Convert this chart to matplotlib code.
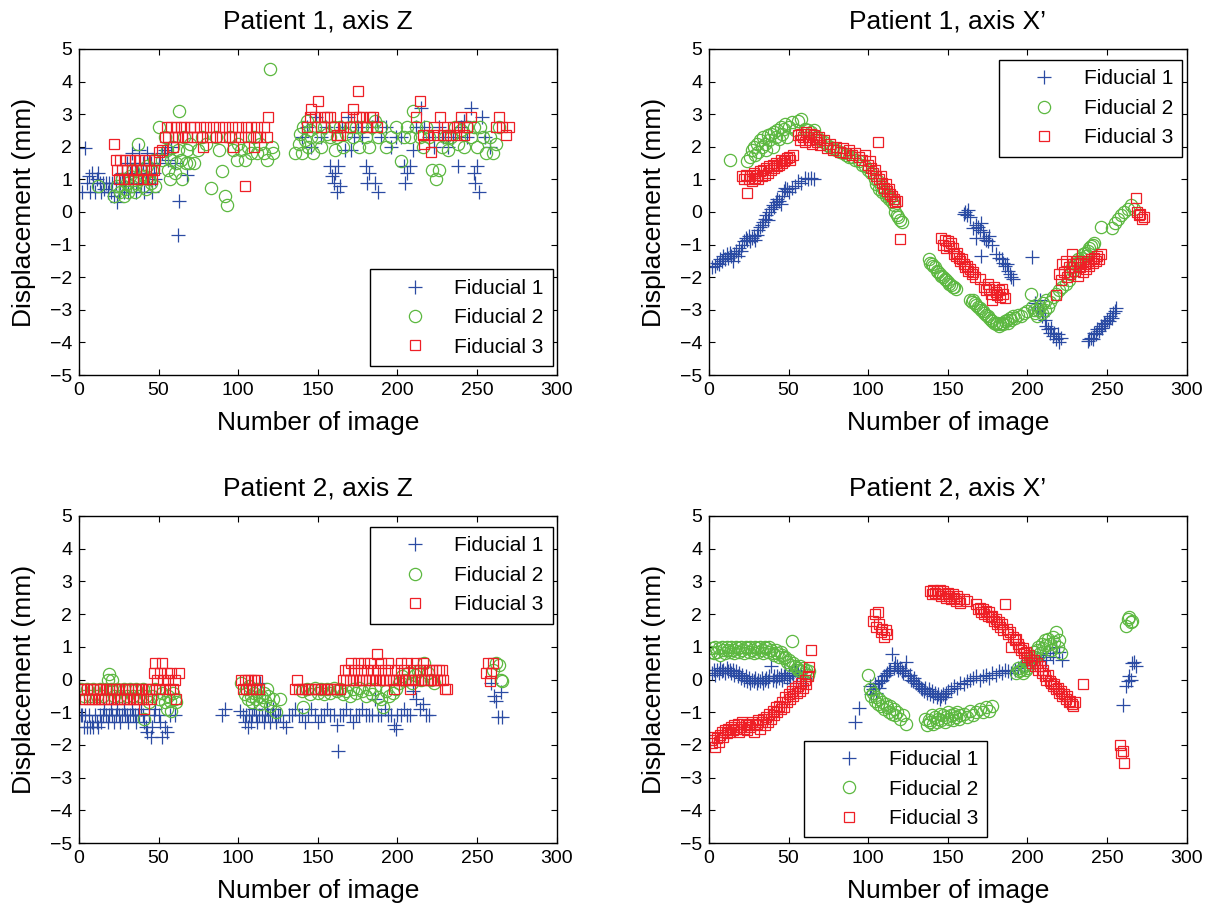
import matplotlib
matplotlib.use("Agg")
import matplotlib.pyplot as plt

plt.rcParams['font.family'] = ['Liberation Sans', 'DejaVu Sans']

# ---------------- Data ----------------
# Patient 1, axis Z
p1z_f1_x = [2,4,5,6,7,8,9,10,11,12,13,14,15,16,17,18,19,20,21,22,23,24,25,26,27,28,29,30,31,32,33,34,35,36,37,38,39,40,41,42,43,44,45,46,47,48,50,52,54,56,58,60,62,63,68,
            140,143,146,149,152,155,158,159,160,161,162,163,164,165,167,169,171,173,175,178,180,181,182,184,186,187,188,190,193,196,199,202,204,205,206,208,210,212,215,217,220,223,226,229,232,235,238,240,242,244,246,248,249,250,251,253,255,258]
p1z_f1_y = [0.6,1.95,0.9,1.1,0.6,1.2,0.9,0.6,1.0,1.2,0.9,0.6,0.9,0.7,0.9,0.6,0.9,0.6,0.9,0.5,0.9,0.3,0.6,0.9,1.2,0.6,0.9,1.5,0.6,1.2,1.8,0.9,1.5,0.6,1.2,1.9,0.9,1.5,0.6,1.2,1.8,0.9,1.5,0.6,1.2,1.0,1.5,1.8,1.9,1.6,2.0,1.5,-0.7,0.35,1.15,
            2.3,2.6,2.0,2.9,2.3,2.6,1.4,1.1,0.9,1.2,0.6,1.4,0.8,2.6,1.9,2.9,1.9,2.3,2.6,2.3,1.4,0.9,1.2,2.6,0.9,2.8,0.6,2.3,2.6,2.0,2.3,2.3,1.4,0.9,1.2,1.4,1.9,2.6,3.2,2.6,2.3,2.0,2.6,2.3,2.0,2.3,1.4,2.6,2.8,2.3,3.2,1.2,0.9,1.4,0.6,2.9,2.3,2.0]
p1z_f2_x = [12,22,24,26,27,28,29,30,31,32,33,34,35,36,37,38,39,40,41,42,43,44,45,46,47,48,50,52,54,55,56,57,58,59,60,61,62,63,64,65,66,67,68,69,70,72,75,77,80,83,86,88,90,92,93,95,97,99,100,102,104,106,108,110,112,114,116,118,120,121,122,
            136,138,139,140,141,142,143,144,145,146,147,148,150,152,154,156,158,160,161,162,164,166,168,170,172,174,176,178,180,182,184,186,188,190,193,196,199,202,204,206,208,210,212,214,216,218,220,222,224,226,228,230,232,234,236,238,240,242,244,246,248,250,252,254,256,258,260,262,264]
p1z_f2_y = [0.8,0.5,0.8,0.6,1.0,0.5,0.7,0.9,0.6,1.1,0.8,1.3,0.6,0.9,2.1,1.0,1.3,0.8,1.1,0.7,1.4,1.0,0.9,1.3,1.6,0.8,2.6,1.6,2.3,1.9,1.3,1.0,1.6,2.0,1.2,1.5,1.9,3.1,1.6,1.0,2.3,1.5,1.9,1.5,2.1,1.5,1.9,2.3,2.1,0.75,2.3,1.9,1.25,0.5,0.2,2.3,1.9,1.6,2.1,1.9,1.6,2.0,1.8,2.3,1.8,2.1,1.8,1.6,4.4,2.0,1.8,
            1.8,2.1,2.4,1.8,2.6,2.2,2.8,2.0,2.5,2.3,1.8,2.6,2.3,2.0,2.6,2.4,2.3,2.6,1.9,2.3,2.6,2.0,2.4,2.6,2.3,2.6,2.0,2.6,2.3,2.0,2.6,2.8,2.3,2.6,2.0,2.3,2.6,1.55,2.3,2.6,2.3,3.1,2.6,2.3,2.0,2.6,2.3,1.3,1.0,1.3,2.0,2.3,1.9,2.3,2.6,2.1,2.5,2.0,2.6,2.3,2.6,2.0,2.6,2.3,1.8,2.3,1.8,2.1,2.6]
p1z_f3_x = [22,23,24,25,26,27,28,29,30,31,32,33,34,35,36,37,38,39,40,41,42,43,44,45,46,47,48,50,52,54,55,56,58,59,60,61,62,64,65,66,68,70,71,72,74,76,77,78,80,82,84,86,88,90,92,94,96,97,98,100,102,104,105,106,108,110,111,112,114,116,118,119,
            143,145,146,148,150,152,154,156,158,160,162,164,166,168,170,172,174,175,176,178,180,181,183,185,187,212,214,216,217,219,221,223,225,227,229,231,233,235,237,239,240,242,244,246,262,264,266,268,270]
p1z_f3_y = [2.1,1.6,1.3,1.0,1.6,1.3,1.0,1.6,1.3,1.0,1.6,1.3,1.0,1.6,1.3,1.0,1.6,1.3,1.0,1.6,1.3,1.0,1.6,1.3,1.0,1.3,1.6,1.85,1.9,2.3,2.6,2.3,2.6,2.0,2.3,2.6,2.3,2.6,2.3,2.6,2.3,2.6,2.3,2.6,2.3,2.6,2.3,2.0,2.6,2.3,2.6,2.3,2.6,2.3,2.6,2.3,2.6,2.0,2.3,2.6,2.3,0.8,2.6,2.3,2.6,2.0,2.3,2.6,2.3,2.6,2.3,2.9,
            2.6,2.9,3.15,2.9,3.4,2.6,2.9,2.9,2.9,2.6,2.35,2.35,2.6,2.9,2.6,3.15,2.9,3.7,2.9,2.9,2.6,2.6,2.9,2.9,2.6,2.9,3.4,2.35,2.1,2.35,1.85,2.6,2.35,2.9,2.35,2.6,2.35,2.6,2.35,2.6,2.9,2.35,2.6,2.9,2.6,2.9,2.6,2.35,2.6]

# Patient 1, axis X'
p1x_f1_x = [2,4,5,6,7,8,9,10,11,12,13,14,15,16,17,18,19,20,21,22,23,24,25,26,27,28,29,30,31,32,33,34,35,36,37,38,39,40,41,42,43,44,45,46,47,48,49,50,52,54,56,58,60,62,64,66,
            160,161,162,163,164,166,168,169,170,171,172,173,174,175,176,168,171,178,180,182,184,185,186,187,188,189,190,191,203,205,206,207,208,209,210,211,212,213,214,215,216,217,218,219,220,221,
            238,239,240,241,242,243,244,245,246,247,248,249,250,251,252,253,254,255,256]
p1x_f1_y = [-1.7,-1.65,-1.55,-1.6,-1.45,-1.5,-1.35,-1.45,-1.3,-1.4,-1.25,-1.35,-1.5,-1.3,-1.2,-1.35,-1.1,-1.2,-1.0,-0.9,-0.8,-0.85,-0.75,-0.9,-0.8,-0.75,-0.85,-0.7,-0.55,-0.45,-0.4,-0.3,-0.2,-0.1,-0.25,0.0,0.1,0.2,0.15,0.3,0.4,0.35,0.25,0.5,0.65,0.75,0.7,0.6,0.75,0.8,0.95,0.9,1.05,1.0,1.05,1.0,
            -0.05,0.0,-0.1,0.05,-0.15,-0.5,-0.4,-0.45,-0.55,-0.35,-0.6,-0.8,-0.85,-0.9,-0.75,-0.8,-1.35,-1.0,-1.3,-1.4,-1.45,-1.55,-1.65,-1.6,-1.8,-1.9,-2.0,-2.05,-1.38,-2.8,-2.9,-3.0,-2.7,-3.2,-3.1,-3.3,-3.5,-3.6,-3.7,-3.55,-3.8,-3.7,-3.9,-3.75,-4.0,-3.85,
            -3.95,-3.9,-3.85,-3.9,-3.7,-3.75,-3.6,-3.65,-3.5,-3.55,-3.4,-3.45,-3.3,-3.35,-3.2,-3.25,-3.1,-3.05,-2.95]
p1x_f2_x = [13,24,26,27,28,29,30,31,32,33,34,35,36,37,38,39,40,41,42,43,44,45,46,47,48,49,50,52,54,56,58,60,62,64,66,68,70,72,74,76,78,80,82,84,86,88,90,92,94,96,98,100,102,104,105,106,107,108,109,110,111,112,113,114,115,116,117,118,119,120,121,
            138,139,140,141,142,143,144,145,146,147,148,149,150,151,152,153,154,155,164,165,166,167,168,169,170,171,172,173,174,175,176,177,178,179,180,181,182,183,184,185,186,187,188,189,190,191,192,194,196,198,200,
            202,203,204,205,206,207,208,209,210,211,212,213,214,216,218,220,222,224,226,227,228,229,230,231,232,233,234,235,236,237,238,239,240,241,242,246,253,255,257,259,261,263,265,267]
p1x_f2_y = [1.6,1.55,1.7,1.9,2.0,1.75,2.1,1.85,2.2,2.0,2.3,2.1,1.9,2.35,2.2,2.4,2.0,2.45,2.3,2.5,2.25,2.6,2.4,2.55,2.7,2.3,2.6,2.75,2.5,2.8,2.85,2.55,2.5,2.45,2.5,2.3,2.2,2.15,2.05,2.0,1.95,1.9,1.85,1.8,1.75,1.7,1.7,1.6,1.55,1.45,1.4,1.3,1.2,1.0,0.85,0.95,0.7,0.8,0.6,0.65,0.5,0.55,0.4,0.45,0.3,0.2,0.0,-0.1,-0.15,-0.25,-0.3,
            -1.45,-1.55,-1.6,-1.65,-1.7,-1.8,-1.85,-1.9,-1.95,-2.0,-2.05,-2.1,-2.15,-2.2,-2.25,-2.3,-2.3,-2.35,-2.7,-2.75,-2.7,-2.8,-2.85,-2.9,-2.95,-3.0,-3.05,-3.1,-3.15,-3.2,-3.25,-3.3,-3.35,-3.4,-3.45,-3.4,-3.5,-3.45,-3.4,-3.45,-3.35,-3.3,-3.4,-3.25,-3.3,-3.2,-3.25,-3.15,-3.2,-3.1,-3.05,
            -2.5,-2.9,-3.0,-3.1,-3.2,-3.0,-2.9,-3.1,-2.8,-3.0,-2.7,-2.9,-2.75,-2.6,-2.5,-2.4,-2.3,-2.2,-2.1,-1.9,-1.7,-1.8,-1.6,-1.55,-1.45,-1.5,-1.4,-1.3,-1.25,-1.35,-1.2,-1.1,-1.05,-1.0,-0.95,-0.45,-0.5,-0.35,-0.2,-0.1,0.0,0.1,0.2,0.1]
p1x_f3_x = [21,22,23,24,25,26,27,28,29,30,31,32,33,34,35,36,37,38,39,40,41,42,43,44,45,46,47,48,49,50,51,53,56,57,58,59,60,61,62,63,64,65,66,67,68,69,70,72,74,76,78,80,82,84,86,88,90,92,94,96,98,100,101,102,103,104,105,106,107,108,109,110,111,112,113,114,115,116,117,118,120,
            146,147,148,149,150,151,152,153,154,155,156,157,158,159,160,161,162,163,164,165,166,167,170,173,174,175,176,177,178,179,180,181,182,183,184,185,186,
            218,220,221,222,223,224,225,226,227,228,229,230,231,232,233,234,235,236,237,238,239,240,241,242,243,244,245,246,268,269,270,271,272,273]
p1x_f3_y = [1.1,1.0,1.15,0.57,1.0,1.1,0.95,1.2,1.05,1.15,1.0,1.25,1.1,1.3,1.15,1.35,1.2,1.4,1.3,1.45,1.35,1.5,1.4,1.45,1.6,1.5,1.55,1.6,1.65,1.7,1.6,1.75,2.35,2.2,2.4,2.3,2.15,2.45,2.3,2.2,2.4,2.1,2.35,2.25,2.15,2.3,2.05,2.2,1.95,2.1,1.9,2.0,1.85,1.95,1.8,1.9,1.75,1.8,1.7,1.6,1.75,1.45,1.55,1.35,1.2,1.3,1.1,2.15,1.0,1.1,0.9,0.75,0.85,0.65,0.7,0.55,0.5,0.4,0.3,0.35,-0.82,
            -0.8,-1.0,-0.85,-1.1,-0.9,-1.05,-0.95,-1.1,-1.3,-1.35,-1.25,-1.4,-1.5,-1.45,-1.6,-1.7,-1.65,-1.8,-1.75,-1.9,-1.85,-2.0,-2.05,-2.3,-2.4,-2.2,-2.35,-2.5,-2.7,-2.3,-2.45,-2.55,-2.4,-2.6,-2.35,-2.5,-2.65,
            -2.55,-1.9,-2.1,-1.6,-1.85,-1.5,-2.0,-1.7,-1.9,-1.3,-1.6,-1.8,-1.5,-1.95,-1.7,-1.55,-1.85,-1.6,-1.75,-1.5,-1.65,-1.45,-1.55,-1.4,-1.5,-1.35,-1.45,-1.3,0.43,0.0,-0.1,-0.05,-0.2,-0.15]

# Patient 2, axis Z
p2z_f1_x = [1,2,3,4,5,6,7,8,9,10,11,12,13,14,15,16,17,18,19,20,21,22,23,24,25,26,27,28,29,30,31,32,33,34,35,36,37,38,39,40,41,42,43,44,45,46,47,48,50,51,52,54,55,57,60,90,92,
            101,103,104,105,106,107,108,109,110,111,112,113,114,115,116,117,118,119,120,121,122,123,124,125,126,128,130,132,134,136,138,140,142,144,146,148,150,152,154,156,158,160,162,163,164,166,168,170,172,174,176,178,180,182,184,186,188,190,192,194,196,198,199,200,202,204,206,208,210,212,214,216,218,220,
            259,261,262,263,265,266]
p2z_f1_y = [-1.1,-1.1,-1.45,-1.1,-1.45,-1.1,-1.45,-1.3,-1.45,-1.1,-1.3,-1.45,-1.1,-1.3,-1.1,-0.9,-1.1,-1.3,-1.1,-0.9,-1.1,-1.3,-1.1,-0.9,-1.1,-1.3,-1.1,-0.9,-1.1,-1.1,-1.3,-1.1,-0.9,-1.1,-1.1,-1.3,-1.1,-1.1,-0.9,-1.1,-1.3,-1.45,-1.6,-1.1,-1.75,-1.45,-1.1,-0.9,-1.1,-1.3,-1.75,-1.45,-1.6,-1.1,-1.1,-1.1,-0.9,
            -0.95,-1.1,-1.3,-1.1,-1.45,-1.1,-1.3,-1.1,-0.9,-1.1,-1.3,-1.1,-0.1,-1.1,-1.3,-1.1,-0.9,-1.1,-1.3,-1.1,-0.9,-1.1,-1.3,-1.1,-1.1,-1.3,-1.45,-1.1,-1.1,-0.9,-1.1,-1.1,-1.3,-1.1,-0.9,-1.1,-1.3,-1.1,-1.1,-0.9,-1.1,-1.1,-1.4,-2.2,-1.1,-1.1,-0.9,-1.1,-1.3,-1.1,-1.1,-0.9,-1.1,-1.1,-1.1,-0.6,-1.1,-1.1,-0.9,-1.1,-1.1,-1.4,-1.5,-1.1,-1.1,-0.9,-1.1,-1.1,-0.35,-0.6,-0.9,-0.75,-1.1,-1.1,
            -0.1,-0.5,-0.65,-1.15,-0.38,-1.15]
p2z_f2_x = [1,3,5,7,9,11,13,15,17,18,19,20,21,22,24,26,28,30,32,34,36,38,40,41,42,44,46,48,50,52,54,55,56,57,58,59,60,61,
            102,104,105,106,107,108,109,110,111,112,113,114,115,116,117,118,119,120,122,124,126,
            140,141,143,145,148,150,152,154,156,158,160,162,164,166,168,170,172,174,176,178,180,182,184,186,188,190,191,193,195,197,199,201,203,205,207,209,211,213,215,217,219,221,223,
            260,262,264,265,266]
p2z_f2_y = [-0.3,-0.5,-0.3,-0.5,-0.3,-0.5,-0.3,-0.5,-0.3,0.0,0.18,-0.3,0.0,-0.5,-0.3,-0.5,-0.3,-0.5,-0.3,-0.5,-0.3,-0.5,-0.3,-1.2,-0.5,-0.7,-0.5,-0.3,-0.6,-0.4,-0.7,-0.9,-0.5,-0.65,-0.95,-0.4,-0.6,-0.7,
            -0.1,-0.45,-0.3,-0.6,-0.2,-0.5,-0.7,-0.4,-0.6,-0.3,-0.5,-0.75,-0.55,-0.4,-0.65,-0.3,-0.5,-0.8,-0.6,-1.0,-0.6,
            -0.35,-0.83,-0.3,-0.45,-0.25,-0.4,-0.3,-0.45,-0.3,-0.4,-0.25,-0.35,-0.3,-0.45,-0.35,-0.5,-0.3,-0.4,-0.25,-0.35,-0.5,-0.3,-0.45,-0.3,-0.55,-0.6,-0.83,-0.35,-0.5,-0.4,-0.3,-0.1,0.1,0.0,0.2,-0.1,0.15,0.25,0.0,0.5,0.2,0.0,-0.1,
            0.3,0.5,0.45,0.0,-0.05]
p2z_f3_x = [1,2,3,4,5,6,7,8,9,10,11,12,13,14,15,16,17,18,19,20,21,22,23,24,25,26,27,28,29,30,31,32,33,34,35,36,37,38,39,40,41,42,43,44,45,46,47,48,49,50,51,52,53,54,55,56,57,58,59,60,61,63,
            102,103,104,105,106,107,108,109,110,111,112,113,
            136,137,138,140,142,144,146,148,150,152,154,156,158,160,162,164,166,167,168,169,170,171,172,173,174,175,176,177,178,179,180,181,182,183,184,185,186,187,188,189,190,191,192,193,194,195,196,197,198,199,200,
            201,202,203,204,205,206,207,208,209,210,211,212,213,214,215,216,217,218,219,220,221,222,223,224,225,226,227,228,229,230,231,
            256,257,258,259,260]
p2z_f3_y = [-0.3,-0.6,-0.3,-0.6,-0.3,-0.6,-0.3,-0.6,-0.3,-0.6,-0.3,-0.6,-0.3,-0.6,-0.3,-0.6,-0.3,-0.6,-0.3,-0.6,-0.3,-0.6,-0.3,-0.6,-0.3,-0.6,-0.3,-0.6,-0.3,-0.6,-0.3,-0.6,-0.3,-0.6,-0.3,-0.6,-0.3,-0.6,-0.3,-0.6,-0.9,-0.3,-0.6,-0.3,-0.6,-0.3,0.2,0.5,0.0,-0.3,0.2,0.5,0.0,-0.3,0.2,0.0,-0.3,0.2,-0.3,0.0,-0.6,0.2,
            0.0,-0.3,0.0,-0.3,0.0,-0.3,0.0,-0.3,0.0,-0.3,0.0,-0.3,
            -0.3,0.0,-0.3,-0.3,-0.3,-0.3,-0.3,-0.3,-0.3,-0.3,-0.3,-0.3,-0.3,-0.3,-0.3,-0.3,0.0,0.3,0.0,0.3,0.0,0.5,0.0,0.3,0.0,0.5,0.0,0.3,0.0,0.5,0.0,0.3,0.0,0.5,0.0,0.3,0.0,0.78,0.3,0.0,0.5,0.0,0.3,0.0,0.5,0.0,0.3,0.0,-0.3,0.0,0.3,
            0.0,0.5,0.0,0.3,0.0,0.5,0.0,-0.3,0.0,0.3,0.0,0.5,0.0,0.3,0.0,0.5,0.0,0.3,0.0,0.3,0.0,0.3,0.0,0.3,0.0,0.3,0.0,0.3,0.0,-0.28,-0.28,
            0.2,0.5,-0.05,0.2,0.5]

# Patient 2, axis X'
p2x_f1_x = [2,3,4,5,6,7,8,9,10,11,12,13,14,15,16,17,18,19,20,21,22,23,24,25,26,27,28,29,30,31,32,33,34,35,36,37,38,39,40,41,42,43,44,45,46,47,48,49,50,51,52,53,54,55,56,57,58,60,92,94,
            101,102,103,104,105,106,107,108,109,110,111,112,113,114,115,116,117,118,119,120,121,122,123,124,125,126,127,128,129,130,131,132,133,134,135,136,137,138,139,140,141,142,143,144,145,146,147,148,149,150,
            152,154,156,158,160,162,164,166,168,170,172,174,176,178,180,182,184,186,188,190,192,194,196,198,200,202,204,206,208,210,212,214,216,218,220,222,
            260,262,263,264,265,266,267,268]
p2x_f1_y = [0.2,0.3,0.15,0.3,0.2,0.35,0.25,0.3,0.2,0.35,0.25,0.3,0.2,0.3,0.15,0.25,0.1,0.2,0.05,0.15,0.0,0.1,-0.05,0.05,-0.1,0.0,-0.05,0.05,-0.1,0.0,-0.05,0.05,-0.1,0.0,0.05,-0.05,0.1,0.4,0.0,0.1,-0.05,0.1,0.05,0.15,0.0,0.1,0.2,0.05,0.15,-0.1,0.2,0.1,0.3,0.15,0.25,-0.2,0.1,0.05,-1.3,-0.86,
            -0.2,-0.45,-0.3,-0.15,-0.4,-0.1,-0.25,-0.05,0.0,0.1,0.15,0.2,0.25,0.3,0.78,0.35,0.5,0.4,0.3,0.35,0.25,0.2,0.3,0.55,0.1,0.15,0.0,-0.05,0.05,-0.1,-0.15,-0.2,-0.25,-0.3,-0.35,-0.25,-0.4,-0.3,-0.45,-0.35,-0.5,-0.4,-0.55,-0.45,-0.6,-0.5,-0.45,-0.55,-0.4,-0.35,
            -0.3,-0.2,-0.25,-0.1,-0.15,-0.05,0.0,0.05,0.1,0.0,0.1,0.15,0.05,0.2,0.15,0.25,0.2,0.3,0.25,0.2,0.3,0.35,0.4,0.45,0.5,0.55,0.6,0.65,0.7,0.75,0.6,0.8,0.7,1.0,0.85,0.6,
            -0.77,-0.2,-0.05,0.1,0.0,0.5,0.55,0.4]
p2x_f2_x = [1,2,3,4,5,6,7,8,9,10,11,12,13,14,15,16,17,18,19,20,21,22,23,24,25,26,27,28,29,30,31,32,33,34,35,36,37,38,39,40,41,42,43,44,45,46,47,48,49,50,51,52,53,54,55,56,57,58,59,60,61,62,63,
            100,101,102,103,104,105,106,107,108,109,110,111,112,113,114,115,116,117,118,120,122,124,
            136,137,138,139,140,141,142,143,144,145,146,147,148,149,150,151,152,153,154,155,156,157,158,160,162,164,166,168,170,172,174,176,178,
            193,194,195,196,197,198,199,200,201,202,203,204,205,206,207,208,209,210,211,212,213,214,215,216,217,218,219,220,221,
            262,263,264,265,266]
p2x_f2_y = [0.85,0.95,0.8,1.0,0.85,0.95,0.75,1.0,0.9,0.8,1.0,0.9,0.85,1.0,0.9,0.8,1.0,0.95,0.85,1.0,0.9,0.8,1.0,0.95,0.85,1.0,0.9,0.8,1.0,0.95,0.85,1.0,0.9,0.8,1.0,0.95,0.85,1.0,0.9,0.8,0.75,0.9,0.8,0.7,0.85,0.75,0.65,0.7,0.55,0.6,0.45,1.18,0.5,0.4,0.35,0.3,0.4,0.25,0.35,0.2,0.3,0.15,0.25,
            0.13,-0.3,-0.5,-0.4,-0.65,-0.55,-0.75,-0.6,-0.8,-0.7,-0.9,-0.75,-0.85,-1.0,-0.8,-1.05,-0.9,-1.1,-1.0,-1.2,-1.1,-1.35,
            -1.2,-1.4,-1.25,-1.3,-1.1,-1.35,-1.15,-1.3,-1.2,-1.05,-1.25,-1.1,-1.3,-1.15,-1.0,-1.2,-1.1,-1.25,-1.05,-1.15,-1.0,-1.2,-1.1,-1.05,-1.15,-0.95,-1.1,-1.0,-0.9,-1.0,-0.85,-0.95,-0.8,
            0.2,0.35,0.25,0.3,0.2,0.4,0.3,0.35,0.45,0.7,0.6,0.85,0.7,0.9,1.0,0.8,1.1,0.95,1.2,1.05,1.25,1.1,0.9,1.3,1.15,1.45,1.0,1.2,0.8,
            1.65,1.85,1.9,1.75,1.8]
p2x_f3_x = [1,2,3,4,5,6,7,8,9,10,11,12,13,14,15,16,17,18,19,20,21,22,23,24,25,26,27,28,29,30,31,32,33,34,35,36,37,38,39,40,41,42,43,44,45,46,47,48,49,50,51,52,53,54,55,56,57,58,59,60,61,62,63,64,
            103,104,105,106,107,108,109,110,111,112,
            139,140,141,142,143,144,145,146,147,148,149,150,151,152,153,154,155,156,157,158,160,162,168,169,170,171,172,173,174,175,176,177,178,179,180,181,182,183,184,185,186,187,188,189,
            190,191,192,193,194,195,196,197,198,199,200,201,202,203,204,205,206,207,208,209,210,211,212,213,214,215,216,217,218,219,220,221,222,223,224,225,226,227,228,229,230,235,
            258,259,260,261]
p2x_f3_y = [-1.85,-1.95,-1.75,-2.05,-1.8,-1.9,-1.7,-1.6,-1.75,-1.55,-1.65,-1.5,-1.6,-1.45,-1.55,-1.4,-1.5,-1.35,-1.6,-1.45,-1.3,-1.5,-1.4,-1.55,-1.35,-1.45,-1.3,-1.6,-1.4,-1.35,-1.25,-1.5,-1.3,-1.2,-1.4,-1.15,-1.3,-1.05,-1.2,-0.95,-1.1,-0.85,-1.0,-0.8,-0.9,-0.7,-0.85,-0.55,-0.7,-0.45,-0.6,-0.35,-0.5,-0.25,-0.4,-0.2,-0.35,-0.1,-0.25,0.0,-0.15,0.1,0.39,0.9,
            1.8,2.0,1.6,2.06,1.7,1.45,1.55,1.3,1.5,1.4,
            2.7,2.6,2.75,2.65,2.7,2.6,2.75,2.55,2.7,2.6,2.5,2.65,2.55,2.45,2.6,2.5,2.4,2.55,2.45,2.35,2.45,2.4,2.3,2.15,2.2,2.05,2.15,2.0,2.1,1.95,2.05,1.9,1.95,1.8,1.85,1.7,1.75,1.6,1.7,1.5,2.3,1.55,1.4,1.45,
            1.0,1.3,1.2,1.25,1.1,1.0,0.9,0.95,0.8,0.85,0.7,0.75,0.6,0.5,0.6,0.4,0.5,0.3,0.4,0.2,0.3,0.1,0.0,0.15,-0.05,-0.1,-0.2,-0.15,-0.3,-0.25,-0.4,-0.35,-0.5,-0.45,-0.6,-0.5,-0.7,-0.65,-0.75,-0.8,-0.7,-0.15,
            -2.0,-2.25,-2.2,-2.55]

titles = ["Patient 1, axis Z", "Patient 1, axis X\u2019", "Patient 2, axis Z", "Patient 2, axis X\u2019"]
series_labels = ["Fiducial 1", "Fiducial 2", "Fiducial 3"]
x_ticks = [0, 50, 100, 150, 200, 250, 300]
y_ticks = [-5, -4, -3, -2, -1, 0, 1, 2, 3, 4, 5]

panels = [
    [(p1z_f1_x, p1z_f1_y), (p1z_f2_x, p1z_f2_y), (p1z_f3_x, p1z_f3_y)],
    [(p1x_f1_x, p1x_f1_y), (p1x_f2_x, p1x_f2_y), (p1x_f3_x, p1x_f3_y)],
    [(p2z_f1_x, p2z_f1_y), (p2z_f2_x, p2z_f2_y), (p2z_f3_x, p2z_f3_y)],
    [(p2x_f1_x, p2x_f1_y), (p2x_f2_x, p2x_f2_y), (p2x_f3_x, p2x_f3_y)],
]

# ---------------- Styling ----------------
W, H = 1216, 907
fig = plt.figure(figsize=(W / 100, H / 100), dpi=100)

def frac_box(l, t, r, b):
    return [l / W, 1 - b / H, (r - l) / W, (b - t) / H]

axes_boxes = [
    frac_box(79, 49, 556.5, 375),
    frac_box(709, 49, 1186.5, 375),
    frac_box(79, 516, 556.5, 843),
    frac_box(709, 516, 1186.5, 843),
]

colors = ['#2b4ba3', '#5cb840', '#ee1f26']
markers = ['+', 'o', 's']
msizes = [9.6, 8.8, 7.2]

legend_specs = [
    dict(loc='lower right', bbox_to_anchor=(0.9927, 0.0276)),
    dict(loc='upper right', bbox_to_anchor=(0.9912, 0.966)),
    dict(loc='upper right', bbox_to_anchor=(0.9927, 0.966)),
    dict(loc='lower left', bbox_to_anchor=(0.1996, 0.0174)),
]

for i, (box, data) in enumerate(zip(axes_boxes, panels)):
    ax = fig.add_axes(box)
    for j, (xs, ys) in enumerate(data):
        ax.plot(xs, ys, linestyle='none', marker=markers[j], markersize=msizes[j],
                markerfacecolor='none', markeredgecolor=colors[j], markeredgewidth=0.9,
                label=series_labels[j])
    ax.set_xlim(0, 300)
    ax.set_ylim(-5, 5)
    ax.set_xticks(x_ticks)
    ax.set_yticks(y_ticks)
    ax.tick_params(direction='in', top=True, right=True, length=4.5, width=0.8,
                   labelsize=14, pad=5)
    for s in ax.spines.values():
        s.set_linewidth(1.0)
    ax.set_title(titles[i], fontsize=19, pad=15)
    ax.set_xlabel("Number of image", fontsize=19, labelpad=9)
    ax.set_ylabel("Displacement (mm)", fontsize=19, labelpad=10)
    leg = ax.legend(fontsize=15, frameon=True, fancybox=False, edgecolor='black',
                    framealpha=1, borderaxespad=0, borderpad=0.45, handlelength=3.4,
                    handletextpad=0.2, labelspacing=0.5, numpoints=1,
                    **legend_specs[i])
    leg.get_frame().set_linewidth(1.0)

fig.savefig("out.png", dpi=100)
